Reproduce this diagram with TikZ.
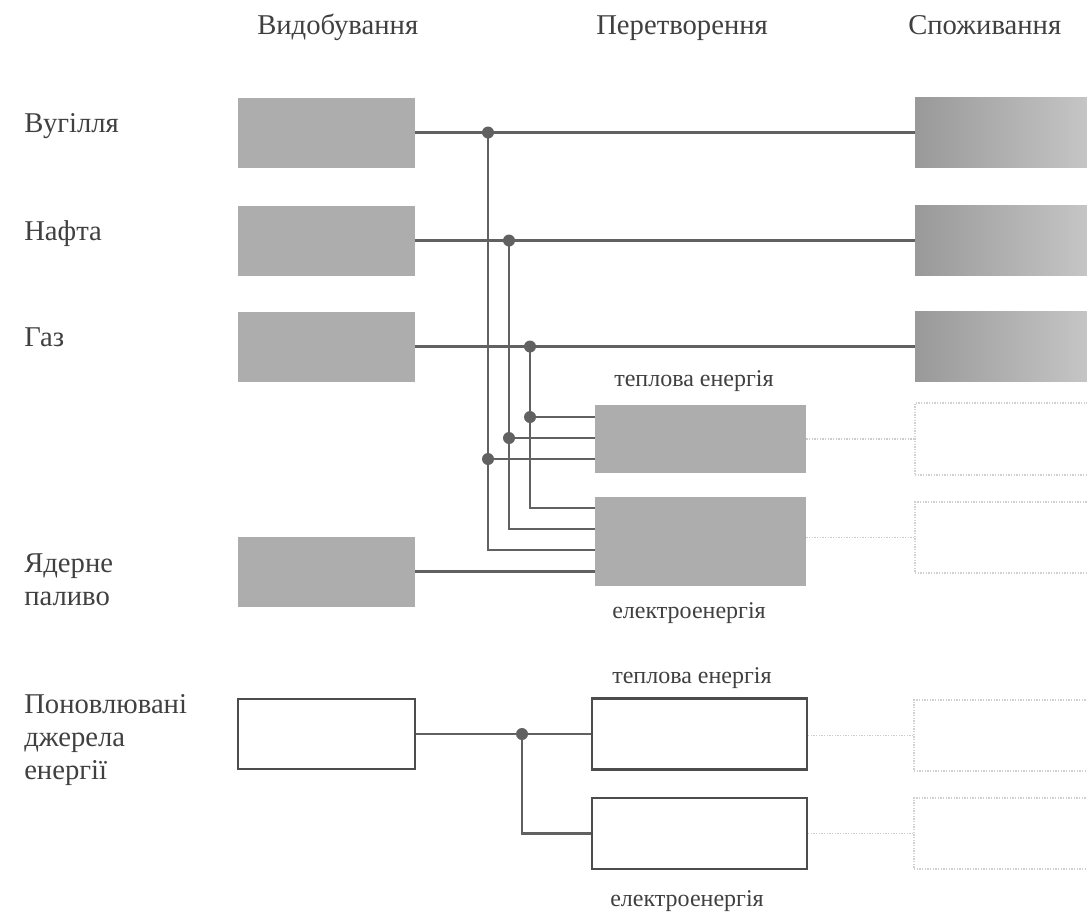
\documentclass[tikz,border=0pt]{standalone}
\usepackage{fontspec}
\setmainfont{Liberation Serif}
\usetikzlibrary{positioning}

\begin{document}
\begin{tikzpicture}[x=0.75pt, y=-0.75pt,
    lbl/.style={text=black!75, font=\fontsize{21.5}{24.75}\selectfont, anchor=base west, inner sep=0pt, align=left},
    sub/.style={text=black!75, font=\fontsize{18}{22}\selectfont, anchor=base, inner sep=0pt},
    src/.style={fill=black!32, inner sep=0pt, minimum width=132.75pt, minimum height=52.5pt},
    use/.style={left color=black!40, right color=black!22, inner sep=0pt, minimum width=135pt, minimum height=52.5pt},
    open/.style={draw=black!70, line width=1.6pt, inner sep=0pt},
    faint/.style={draw=black!18, densely dotted, line width=1pt, inner sep=0pt, minimum width=138.75pt},
    flow/.style={draw=black!62, line width=1.8pt},
    weak/.style={draw=black!20, densely dotted, line width=1pt},
    dot/.style={circle, fill=black!62, inner sep=0pt, minimum size=9pt}]
    \useasboundingbox (0,0) rectangle (1087,914);

    % Column headers
    \node[lbl] (hdrMine) at (257,34) {Видобування};
    \node[lbl] (hdrConv) at (596,34) {Перетворення};
    \node[lbl] (hdrUse)  at (908,34) {Споживання};

    % Row labels
    \node[lbl] (tCoal) at (24,132.5) {Вугілля};
    \node[lbl] (tOil)  at (24,240.5) {Нафта};
    \node[lbl] (tGas)  at (24,346.5) {Газ};
    \node[lbl] (tNuc)  at (24,605) {Ядерне\\паливо};
    \node[lbl] (tRen)  at (24,779) {Поновлювані\\джерела\\енергії};

    % Extraction
    \node[src] (coal) at (326.5,132.5) {};
    \node[src] (oil)  at (326.5,240.5) {};
    \node[src] (gas)  at (326.5,346.5) {};
    \node[src] (nuc)  at (326.5,571.5) {};
    \node[open, minimum width=132.75pt, minimum height=52.5pt] (ren) at (326.5,734) {};

    % Conversion
    \node[src, minimum width=158.25pt, minimum height=51pt] (heat) at (700.5,439) {};
    \node[src, minimum width=158.25pt, minimum height=66.75pt] (elec) at (700.5,541.5) {};
    \node[open, minimum width=161.25pt, minimum height=53.25pt] (renHeat) at (699.5,734) {};
    \node[open, minimum width=161.25pt, minimum height=53.25pt] (renElec) at (699.5,833.5) {};

    \node[sub] (lHeat)  at (694,386) {теплова енергія};
    \node[sub] (lElec)  at (689,618) {електроенергія};
    \node[sub] (lHeat2) at (692,683) {теплова енергія};
    \node[sub] (lElec2) at (687,906) {електроенергія};

    % Consumption
    \node[use] (coalUse) at (1005,132.5) {};
    \node[use] (oilUse)  at (1005,240.5) {};
    \node[use] (gasUse)  at (1005,346.5) {};
    \node[faint, minimum height=54pt] (heatUse) at (1007.5,439) {};
    \node[faint, minimum height=53.25pt] (elecUse) at (1007.5,537.5) {};
    \node[faint, minimum height=53.25pt] (renHeatUse) at (1006.5,735.5) {};
    \node[faint, minimum height=53.25pt] (renElecUse) at (1006.5,833.5) {};

    % Fuel lines
    \draw[flow] (coal.east) -- (coalUse.west);
    \draw[flow] (oil.east) -- (oilUse.west);
    \draw[flow] (gas.east) -- (gasUse.west);
    \draw[flow] (nuc.east) -- (nuc.east -| elec.west);

    % Branches to the plants
    \coordinate (kCoal) at (488,132.5);
    \coordinate (kOil)  at (509,240.5);
    \coordinate (kGas)  at (530,346.5);
    \coordinate (kCoalH) at (488,459);
    \coordinate (kOilH)  at (509,438);
    \coordinate (kGasH)  at (530,417);
    \draw[flow] (kCoal) |- (488,550 -| elec.west);
    \draw[flow] (kOil)  |- (509,529 -| elec.west);
    \draw[flow] (kGas)  |- (530,508 -| elec.west);
    \draw[flow] (kCoalH) -- (kCoalH -| heat.west);
    \draw[flow] (kOilH)  -- (kOilH -| heat.west);
    \draw[flow] (kGasH)  -- (kGasH -| heat.west);
    \foreach \k in {kCoal, kOil, kGas, kCoalH, kOilH, kGasH}
        \node[dot] (d\k) at (\k) {};

    % Renewables
    \coordinate (kRen) at (522,734);
    \draw[flow] (ren.east) -- (renHeat.west);
    \draw[flow] (kRen) |- (renElec.west);
    \node[dot] (dRen) at (kRen) {};

    % Energy to consumers
    \draw[weak] (heat.east |- heatUse.west) -- (heatUse.west);
    \draw[weak] (elec.east |- elecUse.west) -- (elecUse.west);
    \draw[weak] (renHeat.east |- renHeatUse.west) -- (renHeatUse.west);
    \draw[weak] (renElec.east) -- (renElecUse.west);
\end{tikzpicture}
\end{document}
